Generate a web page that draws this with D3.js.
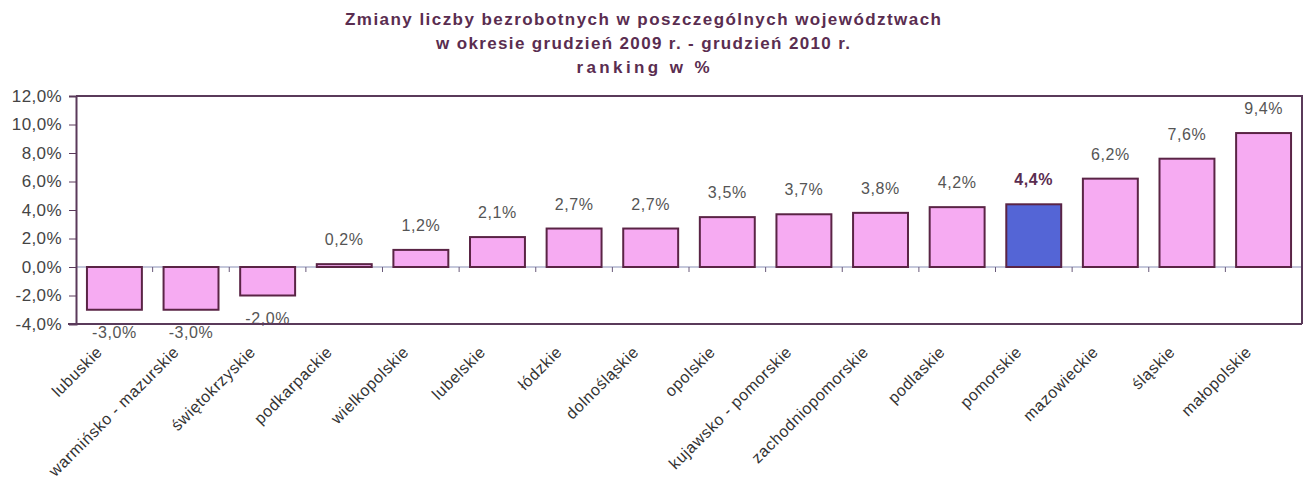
<!DOCTYPE html>
<html><head><meta charset="utf-8">
<script src="https://cdn.jsdelivr.net/npm/d3@7"></script>
<style>body{margin:0;background:#fff}svg{display:block}</style>
</head><body>
<svg id="c" width="1304" height="485"></svg>
<script>
const categories = ["lubuskie","warmińsko - mazurskie","świętokrzyskie","podkarpackie","wielkopolskie","lubelskie","łódzkie","dolnośląskie","opolskie","kujawsko - pomorskie","zachodniopomorskie","podlaskie","pomorskie","mazowieckie","śląskie","małopolskie"];
const values = [-3.0,-3.0,-2.0,0.2,1.2,2.1,2.7,2.7,3.5,3.7,3.8,4.2,4.4,6.2,7.6,9.4];
const highlighted = ["pomorskie"];
const yTicks = [-4,-2,0,2,4,6,8,10,12];
const titleLines = ["Zmiany liczby bezrobotnych w poszczególnych województwach","w okresie grudzień 2009 r. - grudzień 2010 r.","ranking w %"];

const svg = d3.select("#c");
const m = {left:76, right:1302, top:96, bottom:324};
const x = d3.scaleBand().domain(categories).range([m.left, m.right]).paddingInner(0.283).paddingOuter(0.143);
const y = d3.scaleLinear().domain([-4,12]).range([m.bottom, m.top]);
const loc = d3.formatLocale({decimal:",", thousands:" ", grouping:[3], currency:["",""], minus:"-"});
const fmt = v => loc.format(".1f")(v) + "%";
const font = "Arial, 'Liberation Sans', sans-serif";

// title
const titleW = [596, 414, 133];
svg.append("g").selectAll("text").data(titleLines).join("text")
  .attr("x", 643).attr("y", (d,i)=>25 + i*24)
  .attr("text-anchor","middle")
  .attr("font-family", font).attr("font-weight","bold").attr("font-size", 17)
  .attr("fill","#5a2d50")
  .attr("textLength",(d,i)=>titleW[i]).attr("lengthAdjust","spacing")
  .text(d=>d);

// zero line
svg.append("line").attr("x1",m.left).attr("x2",m.right).attr("y1",y(0)).attr("y2",y(0))
  .attr("stroke","#8a8fb5").attr("stroke-width",1.2);
// category ticks on zero line
const bounds = d3.range(1, categories.length).map(i => m.left + i*(m.right-m.left)/categories.length);
svg.append("g").selectAll("line").data(bounds).join("line")
  .attr("x1",d=>d).attr("x2",d=>d).attr("y1",y(0)).attr("y2",y(0)+5)
  .attr("stroke","#6a5a7a").attr("stroke-width",1);

// bars
svg.append("g").selectAll("rect").data(values).join("rect")
  .attr("x",(d,i)=>x(categories[i]))
  .attr("width", x.bandwidth())
  .attr("y", d=>y(Math.max(0,d)))
  .attr("height", d=>Math.abs(y(d)-y(0)))
  .attr("fill",(d,i)=>highlighted.includes(categories[i]) ? "#5465d6" : "#f6abf2")
  .attr("stroke","#5a2445").attr("stroke-width",2);

// value labels
svg.append("g").selectAll("text").data(values).join("text")
  .attr("x",(d,i)=>x(categories[i]) + x.bandwidth()/2)
  .attr("y", d=> d>=0 ? y(d)-19 : y(d)+28)
  .attr("text-anchor","middle")
  .attr("font-family", font).attr("font-size", 16)
  .attr("letter-spacing", 0.6)
  .attr("font-weight",(d,i)=>highlighted.includes(categories[i]) ? "bold" : "normal")
  .attr("fill",(d,i)=>highlighted.includes(categories[i]) ? "#5a2d50" : "#555")
  .text(fmt);

// y axis
const yAxis = svg.append("g").attr("transform",`translate(${m.left},0)`)
  .call(d3.axisLeft(y).tickValues(yTicks).tickSize(7).tickFormat(fmt));
yAxis.select(".domain").attr("stroke","#5a3a5a").attr("stroke-width",2);
yAxis.selectAll(".tick line").attr("stroke","#5a3a5a");
yAxis.selectAll(".tick text").attr("font-family",font).attr("font-size",17).attr("letter-spacing",0.4).attr("fill","#444").attr("x",-14);

// frame
svg.append("path").attr("d",`M${m.left},${m.top}H${m.right}V${m.bottom}`).attr("fill","none")
  .attr("stroke","#5a3a5a").attr("stroke-width",2);
svg.append("line").attr("x1",m.left-8).attr("x2",m.right).attr("y1",m.bottom).attr("y2",m.bottom)
  .attr("stroke","#5a3a5a").attr("stroke-width",2);

// category labels
svg.append("g").selectAll("text").data(categories).join("text")
  .attr("transform",d=>`translate(${x(d)+x.bandwidth()/2-19},${m.bottom+21}) rotate(-45)`)
  .attr("text-anchor","end").attr("dy","0.7em")
  .attr("font-family",font).attr("font-size",16).attr("letter-spacing",0.6).attr("fill","#333")
  .text(d=>d);
</script>
</body></html>
